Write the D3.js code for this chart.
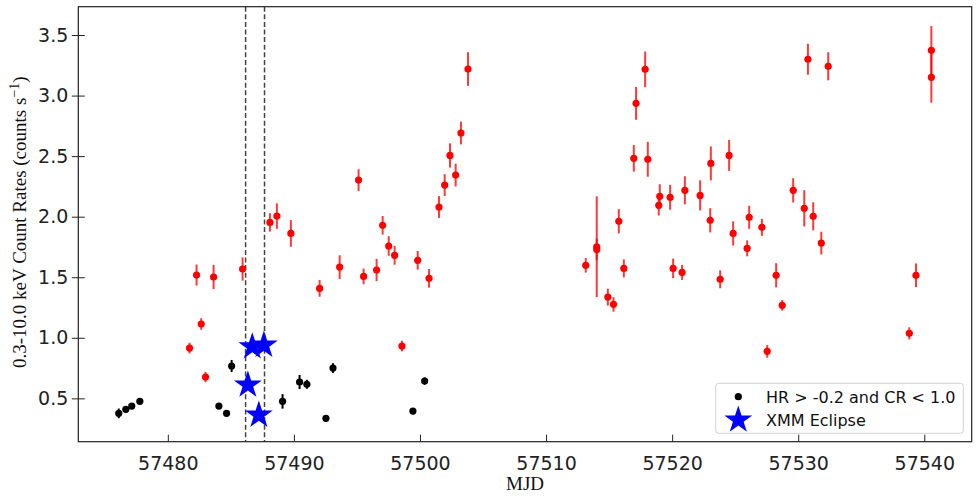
<!DOCTYPE html>
<html>
<head>
<meta charset="utf-8">
<script src="https://cdn.jsdelivr.net/npm/d3@7"></script>
<style>
  html, body { margin: 0; padding: 0; background: #fff; }
  svg { display: block; }
</style>
</head>
<body>
<svg id="chart" width="977" height="499"></svg>
<script>
// ---- Data ----
const redMjd  = [57481.72, 57482.28, 57482.65, 57482.99, 57483.63, 57485.93, 57488.10, 57488.65, 57489.76,
                 57492.04, 57493.63, 57495.13, 57495.53, 57496.56, 57497.04, 57497.52, 57497.99, 57498.57,
                 57499.82, 57500.72, 57501.51, 57501.96, 57502.38, 57502.83, 57503.25, 57503.81,
                 57513.15, 57514.02, 57514.02, 57514.90, 57515.35, 57515.77, 57516.17, 57516.96, 57517.14,
                 57517.86, 57518.07, 57518.94, 57519.02, 57519.84, 57520.08, 57520.79, 57521.01, 57522.22,
                 57523.02, 57523.07, 57523.81, 57524.52, 57524.84, 57525.95, 57526.11, 57527.12, 57527.54,
                 57528.25, 57528.73, 57529.60, 57530.48, 57530.77, 57531.19, 57531.83, 57532.38,
                 57538.81, 57539.34, 57540.56, 57540.56];
const redRate = [0.915, 1.518, 1.114, 0.676, 1.502, 1.568, 1.953, 2.005, 1.862,
                 1.408, 1.584, 2.302, 1.507, 1.560, 1.929, 1.758, 1.681, 0.932,
                 1.640, 1.491, 2.080, 2.261, 2.506, 2.344, 2.691, 3.219,
                 1.598, 1.752, 1.730, 1.336, 1.276, 1.962, 1.573, 2.482, 2.936,
                 3.217, 2.474, 2.094, 2.168, 2.160, 1.573, 1.540, 2.218, 2.176,
                 1.970, 2.440, 1.483, 2.506, 1.862, 1.739, 1.995, 1.912, 0.888,
                 1.516, 1.268, 2.218, 2.069, 3.300, 2.003, 1.782, 3.242,
                 1.037, 1.516, 3.374, 3.151];
const redErr  = [0.044, 0.087, 0.048, 0.043, 0.100, 0.096, 0.076, 0.105, 0.110,
                 0.069, 0.098, 0.090, 0.065, 0.092, 0.077, 0.081, 0.078, 0.044,
                 0.077, 0.077, 0.090, 0.090, 0.100, 0.094, 0.094, 0.139,
                 0.060, 0.416, 0.090, 0.070, 0.060, 0.100, 0.074, 0.110, 0.136,
                 0.147, 0.144, 0.084, 0.100, 0.103, 0.081, 0.062, 0.116, 0.124,
                 0.100, 0.140, 0.074, 0.128, 0.100, 0.066, 0.095, 0.070, 0.052,
                 0.100, 0.044, 0.100, 0.150, 0.128, 0.116, 0.094, 0.116,
                 0.050, 0.098, 0.200, 0.210];

const blackMjd  = [57476.11, 57476.67, 57477.14, 57477.78, 57484.05, 57484.66, 57485.06,
                   57489.10, 57490.45, 57491.03, 57492.54, 57493.10, 57499.44, 57500.37];
const blackRate = [0.376, 0.409, 0.436, 0.475, 0.436, 0.376, 0.767,
                   0.475, 0.635, 0.616, 0.335, 0.750, 0.395, 0.643];
const blackErr  = [0.040, 0.025, 0.025, 0.022, 0.020, 0.020, 0.050,
                   0.060, 0.058, 0.037, 0.025, 0.040, 0.025, 0.030];

const starMjd  = [57486.70, 57487.62, 57486.35, 57487.22];
const starRate = [0.926, 0.940, 0.610, 0.362];

const eclipseLines = [57486.17, 57487.67];

const xTicks = [57480, 57490, 57500, 57510, 57520, 57530, 57540];
const yTicks = [0.5, 1.0, 1.5, 2.0, 2.5, 3.0, 3.5];

const legendLabels = ["HR > -0.2 and CR < 1.0", "XMM Eclipse"];

// ---- Layout ----
const svg = d3.select("#chart");
const L = 78.3, R = 971.7, T = 6.7, B = 441.7;

const x = d3.scaleLinear().domain([57472.9, 57543.76]).range([L, R]);
const y = d3.scaleLinear().domain([0.142, 3.734]).range([B, T]);

const tickFont = "DejaVu Sans, sans-serif";

// Plot contents
const plot = svg.append("g");

// eclipse dashed lines
plot.selectAll("line.ecl").data(eclipseLines).enter().append("line")
  .attr("class", "ecl")
  .attr("x1", d => x(d)).attr("x2", d => x(d))
  .attr("y1", T).attr("y2", B)
  .attr("stroke", "#444").attr("stroke-width", 1.5)
  .attr("stroke-dasharray", "5,2.6");

// red error bars and points
const redData = redMjd.map((m, i) => ({m, r: redRate[i], e: redErr[i]}));
plot.selectAll("line.rerr").data(redData).enter().append("line")
  .attr("x1", d => x(d.m)).attr("x2", d => x(d.m))
  .attr("y1", d => y(d.r - d.e)).attr("y2", d => y(d.r + d.e))
  .attr("stroke", "red").attr("stroke-opacity", 0.78).attr("stroke-width", 2);
plot.selectAll("circle.rpt").data(redData).enter().append("circle")
  .attr("cx", d => x(d.m)).attr("cy", d => y(d.r)).attr("r", 3.6)
  .attr("fill", "red");

// black error bars and points
const blackData = blackMjd.map((m, i) => ({m, r: blackRate[i], e: blackErr[i]}));
plot.selectAll("line.berr").data(blackData).enter().append("line")
  .attr("x1", d => x(d.m)).attr("x2", d => x(d.m))
  .attr("y1", d => y(d.r - d.e)).attr("y2", d => y(d.r + d.e))
  .attr("stroke", "black").attr("stroke-width", 2);
plot.selectAll("circle.bpt").data(blackData).enter().append("circle")
  .attr("cx", d => x(d.m)).attr("cy", d => y(d.r)).attr("r", 3.6)
  .attr("fill", "black");

// stars
const star = d3.symbol().type(d3.symbolStar).size(240);
const starData = starMjd.map((m, i) => ({m, r: starRate[i]}));
plot.selectAll("path.star").data(starData).enter().append("path")
  .attr("d", star)
  .attr("transform", d => `translate(${x(d.m)},${y(d.r)})`)
  .attr("fill", "#0000ff");

// Axes
const xAxis = svg.append("g").attr("transform", `translate(0,${B})`)
  .call(d3.axisBottom(x).tickValues(xTicks).tickFormat(d3.format("d")).tickSizeInner(-7).tickSizeOuter(0).tickPadding(15));
const yAxis = svg.append("g").attr("transform", `translate(${L},0)`)
  .call(d3.axisLeft(y).tickValues(yTicks).tickFormat(d3.format(".1f")).tickSizeInner(6.5).tickSizeOuter(0).tickPadding(4));
yAxis.selectAll(".tick line").attr("x2", 6.5).attr("x1", -6.5);
[xAxis, yAxis].forEach(a => {
  a.select(".domain").remove();
  a.selectAll(".tick line").attr("stroke", "#222").attr("stroke-width", 1);
  a.selectAll(".tick text").attr("font-family", tickFont).attr("font-size", 19).attr("fill", "#222");
});
yAxis.selectAll(".tick text").attr("x", -10);

// frame
svg.append("rect").attr("x", L).attr("y", T).attr("width", R - L).attr("height", B - T)
  .attr("fill", "none").attr("stroke", "#222").attr("stroke-width", 1.2);

// Axis labels
svg.append("text")
  .attr("x", (L + R) / 2).attr("y", 490)
  .attr("text-anchor", "middle")
  .attr("font-family", "Liberation Serif, Times New Roman, serif")
  .attr("font-size", 19).attr("fill", "#111")
  .text("MJD");

const yl = svg.append("text")
  .attr("transform", `translate(26,${(T + B) / 2 - 2}) rotate(-90)`)
  .attr("text-anchor", "middle")
  .attr("font-family", "Liberation Serif, Times New Roman, serif")
  .attr("font-size", 19).attr("fill", "#111");
yl.append("tspan").text("0.3-10.0 keV Count Rates (counts s");
yl.append("tspan").attr("dy", -7).attr("font-size", 14).text("\u22121");
yl.append("tspan").attr("dy", 7).text(")");

// Legend
const lg = svg.append("g");
lg.append("rect").attr("x", 715.7).attr("y", 383.3).attr("width", 247.6).attr("height", 50)
  .attr("rx", 3).attr("fill", "white").attr("fill-opacity", 0.8)
  .attr("stroke", "#d0d0d0").attr("stroke-width", 1);
lg.append("circle").attr("cx", 738.3).attr("cy", 396.7).attr("r", 3.6).attr("fill", "black");
lg.append("path").attr("d", star).attr("transform", "translate(738.3,420)").attr("fill", "#0000ff");
lg.selectAll("text.lt").data(legendLabels).enter().append("text")
  .attr("x", 766).attr("y", (d, i) => 402.5 + i * 23)
  .attr("font-family", tickFont).attr("font-size", 16).attr("fill", "#111")
  .text(d => d);
</script>
</body>
</html>
